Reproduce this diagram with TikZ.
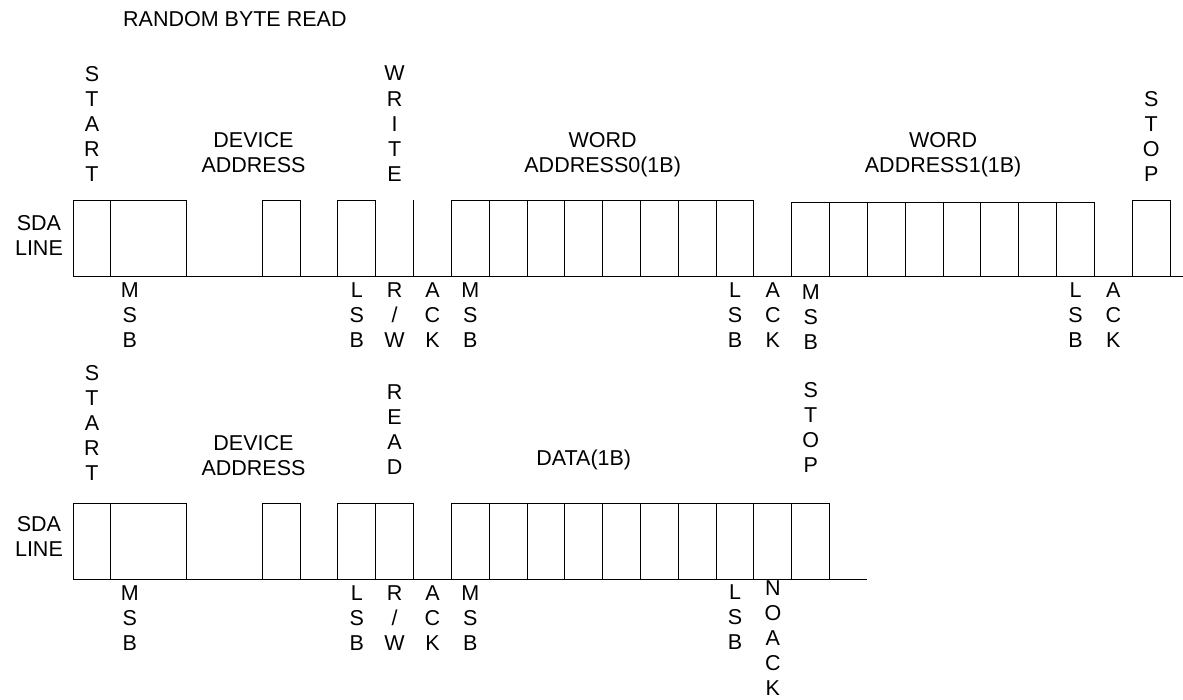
\documentclass[tikz,border=0pt]{standalone}
\usepackage{fontspec}
\setmainfont{Liberation Sans}

\tikzset{
  lbl/.style={font=\fontsize{21.5}{25}\selectfont, align=center, inner sep=0pt, anchor=north},
  sig/.style={line width=1pt}
}

\begin{document}
\begin{tikzpicture}[x=37.83pt,y=-1pt]
    \useasboundingbox (-1.93,0) rectangle (29.34,699);
    \node[lbl, anchor=west] (title) at (1.32,19.5) {RANDOM BYTE READ};

    % write: device address + word address 0 + word address 1
    \draw[sig] (0,276) -- (29.34,276);
    \draw[sig] (0,276) -- (0,200) -- (3,200) -- (3,276);
    \draw[sig] (1,200) -- (1,276);
    \draw[sig] (5,276) -- (5,200) -- (6,200) -- (6,276);
    \draw[sig] (7,276) -- (7,200) -- (8,200) -- (8,276);
    \draw[sig] (9,200) -- (9,276);
    \draw[sig] (10,276) -- (10,200) -- (18,200) -- (18,276);
    \foreach \k in {11,...,17} \draw[sig] (\k,200) -- (\k,276);
    \draw[sig] (19,276) -- (19,202) -- (27,202) -- (27,276);
    \foreach \k in {20,...,26} \draw[sig] (\k,202) -- (\k,276);
    \draw[sig] (28,276) -- (28,200) -- (29,200) -- (29,276);

    \node[lbl] (sda1) at (-0.9,215) {SDA\\LINE};
    \node[lbl] (start1) at (0.5,66) {S\\T\\A\\R\\T};
    \node[lbl] (dev1) at (4.77,132) {DEVICE\\ADDRESS};
    \node[lbl] (wr1) at (8.5,66) {W\\R\\I\\T\\E};
    \node[lbl] (word0) at (14,132) {WORD\\ADDRESS0(1B)};
    \node[lbl] (word1) at (23,132) {WORD\\ADDRESS1(1B)};
    \node[lbl] (stop1) at (28.5,91) {S\\T\\O\\P};

    \node[lbl] (msb1) at (1.5,282) {M\\S\\B};
    \node[lbl] (lsb1) at (7.5,282) {L\\S\\B};
    \node[lbl] (rw1) at (8.5,282) {R\\/\\W};
    \node[lbl] (ack1) at (9.5,282) {A\\C\\K};
    \node[lbl] (msb2) at (10.5,282) {M\\S\\B};
    \node[lbl] (lsb2) at (17.5,282) {L\\S\\B};
    \node[lbl] (ack2) at (18.5,282) {A\\C\\K};
    \node[lbl] (msb3) at (19.5,284) {M\\S\\B};
    \node[lbl] (lsb3) at (26.5,282) {L\\S\\B};
    \node[lbl] (ack3) at (27.5,282) {A\\C\\K};

    % read: device address + data
    \draw[sig] (0,579) -- (21,579);
    \draw[sig] (0,579) -- (0,503) -- (3,503) -- (3,579);
    \draw[sig] (1,503) -- (1,579);
    \draw[sig] (5,579) -- (5,503) -- (6,503) -- (6,579);
    \draw[sig] (7,579) -- (7,503) -- (9,503) -- (9,579);
    \draw[sig] (8,503) -- (8,579);
    \draw[sig] (10,579) -- (10,503) -- (20,503) -- (20,579);
    \foreach \k in {11,...,19} \draw[sig] (\k,503) -- (\k,579);

    \node[lbl] (sda2) at (-0.9,516) {SDA\\LINE};
    \node[lbl] (start2) at (0.5,365) {S\\T\\A\\R\\T};
    \node[lbl] (dev2) at (4.77,435) {DEVICE\\ADDRESS};
    \node[lbl] (rd2) at (8.5,384) {R\\E\\A\\D};
    \node[lbl] (data) at (13.5,450) {DATA(1B)};
    \node[lbl] (stop2) at (19.5,382) {S\\T\\O\\P};

    \node[lbl] (msb4) at (1.5,585) {M\\S\\B};
    \node[lbl] (lsb4) at (7.5,585) {L\\S\\B};
    \node[lbl] (rw2) at (8.5,585) {R\\/\\W};
    \node[lbl] (ack4) at (9.5,585) {A\\C\\K};
    \node[lbl] (msb5) at (10.5,585) {M\\S\\B};
    \node[lbl] (lsb5) at (17.5,584) {L\\S\\B};
    \node[lbl] (nack) at (18.5,580) {N\\O\\A\\C\\K};
\end{tikzpicture}
\end{document}
